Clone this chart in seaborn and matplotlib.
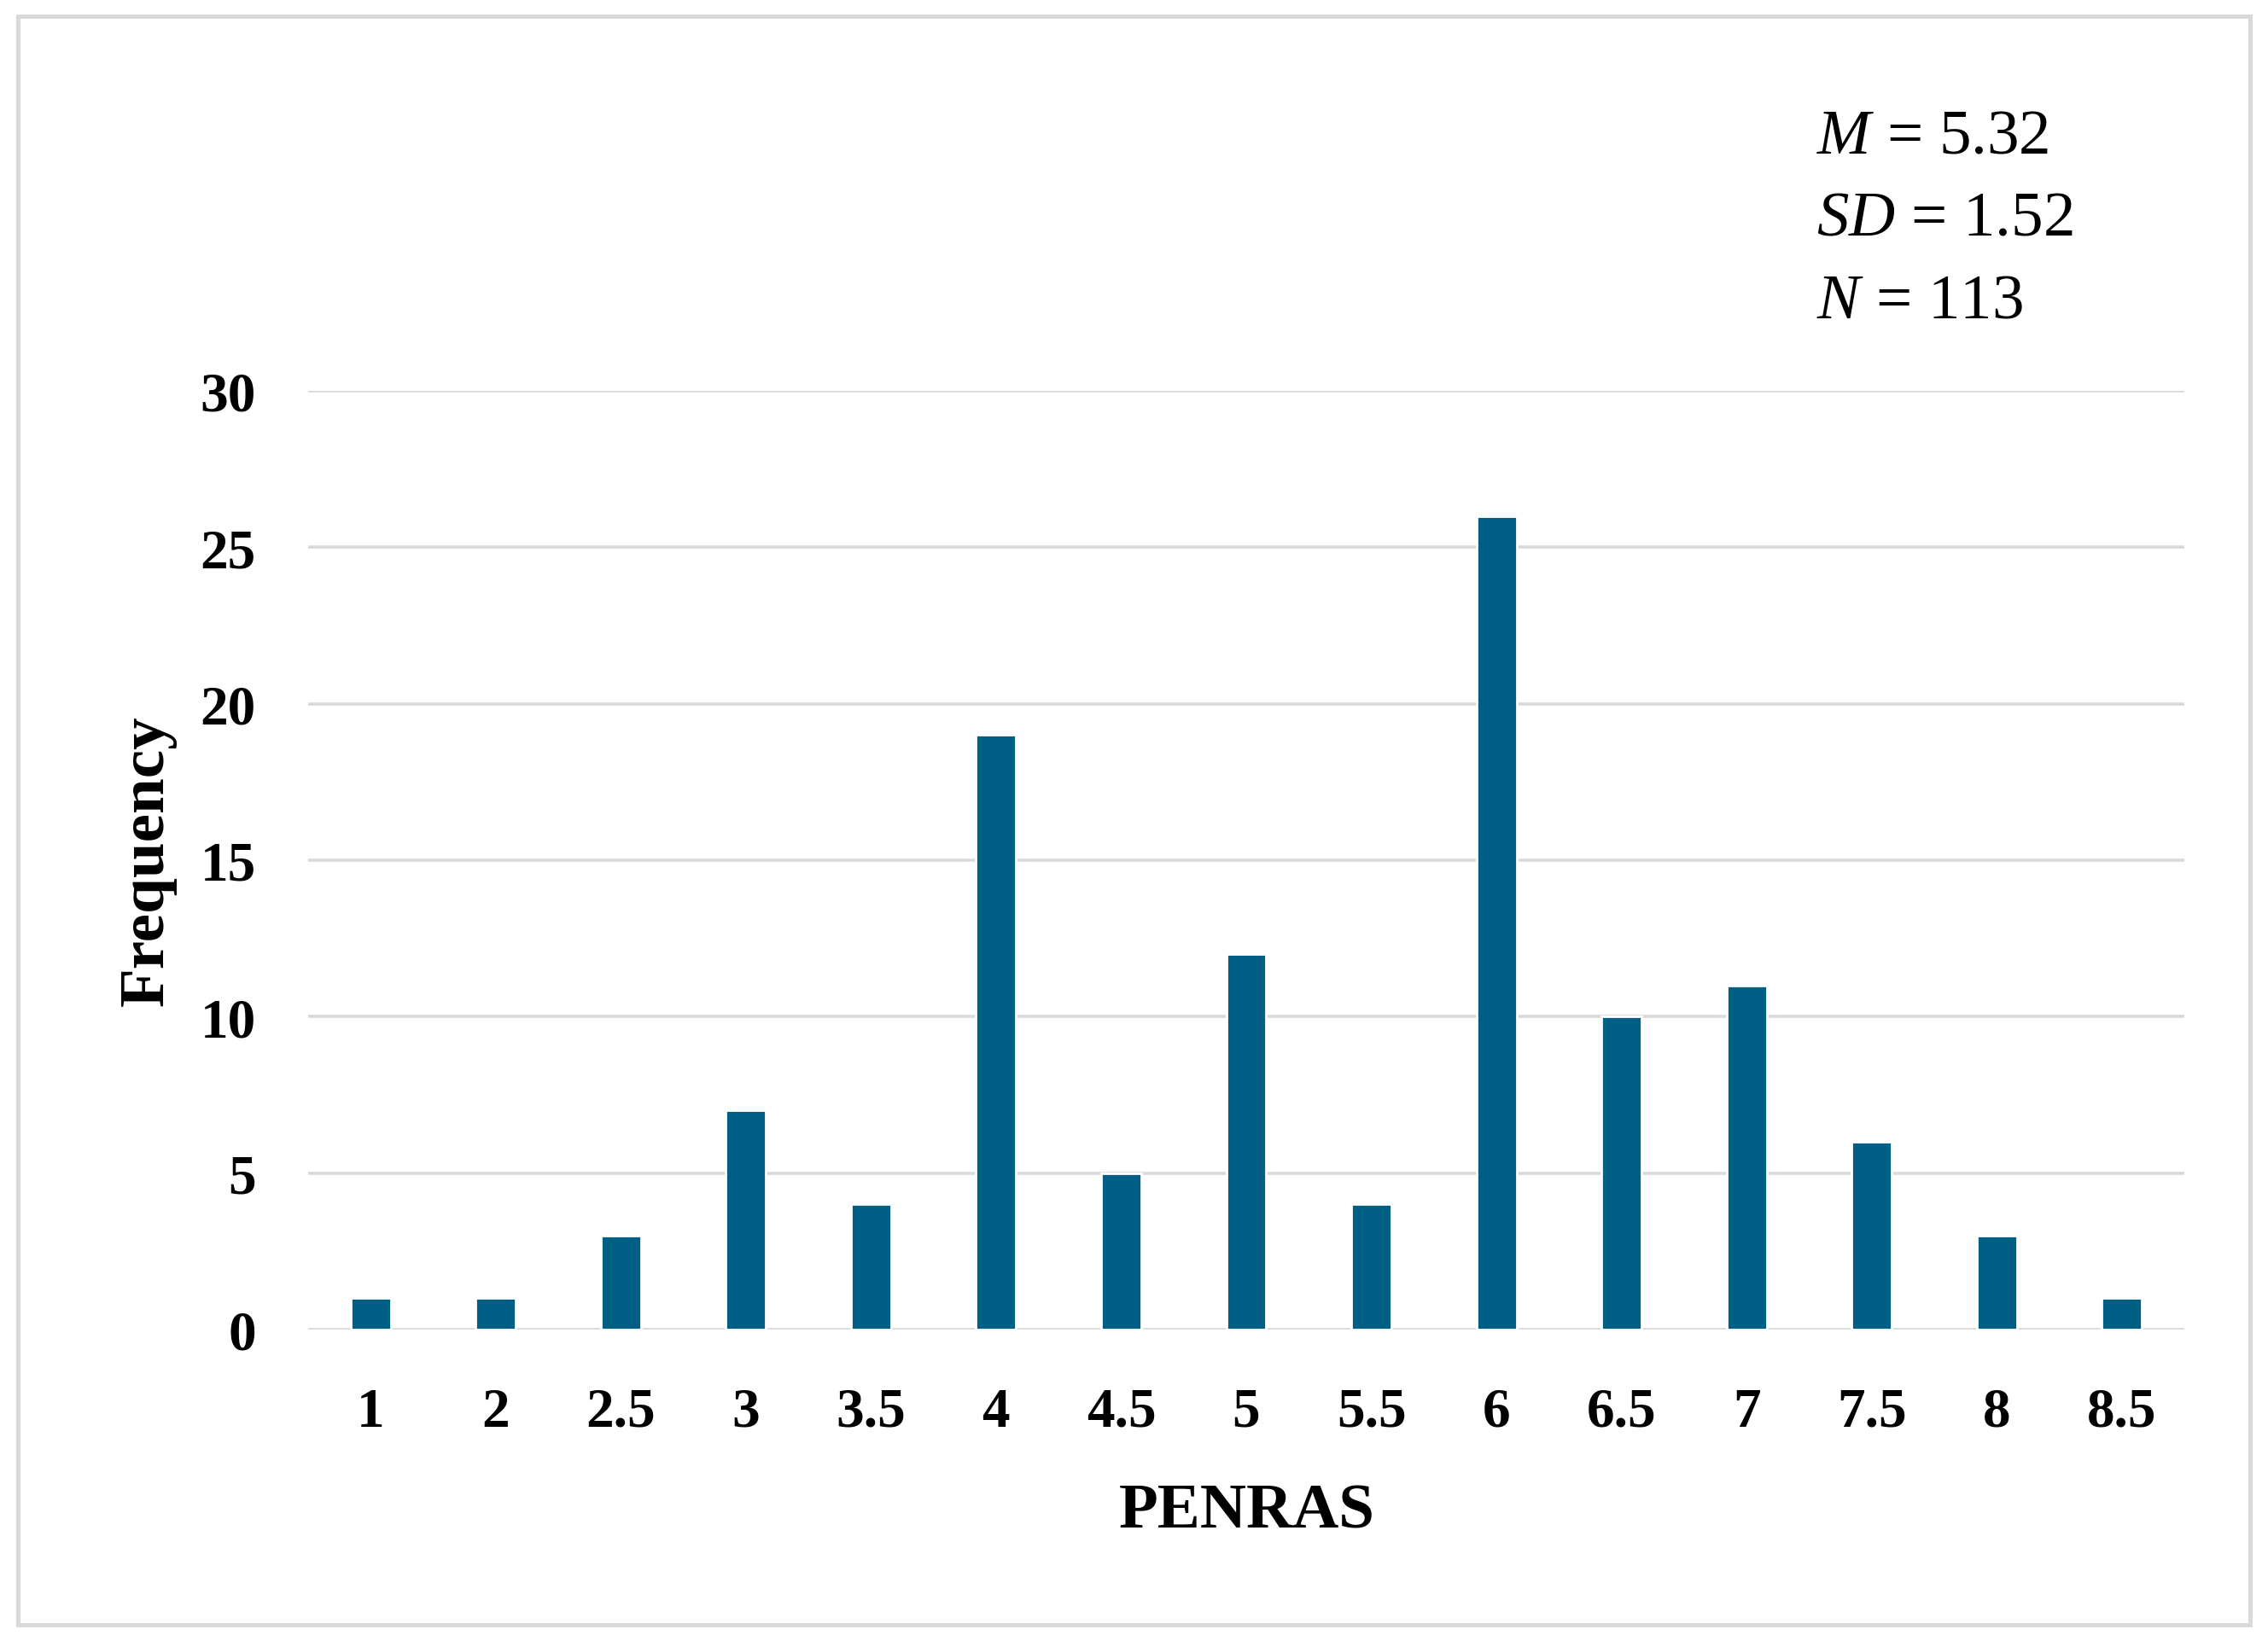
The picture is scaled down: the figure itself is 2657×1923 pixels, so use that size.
import matplotlib
matplotlib.use("Agg")
import matplotlib.pyplot as plt
import seaborn as sns
from matplotlib.patches import Rectangle

# data
penras = ["1", "2", "2.5", "3", "3.5", "4", "4.5", "5", "5.5", "6", "6.5", "7", "7.5", "8", "8.5"]
frequency = [1, 1, 3, 7, 4, 19, 5, 12, 4, 26, 10, 11, 6, 3, 1]
stats_lines = [("M", "5.32"), ("SD", "1.52"), ("N", "113")]

bar_color = "#005F85"
grid_color = "#D9D9D9"

sns.set_style("white")
plt.rcParams["font.family"] = ["Liberation Serif", "DejaVu Serif"]
plt.rcParams["mathtext.fontset"] = "custom"
plt.rcParams["mathtext.it"] = "Liberation Serif:italic"
plt.rcParams["mathtext.rm"] = "Liberation Serif"
plt.rcParams["text.color"] = "black"
plt.rcParams["axes.labelcolor"] = "black"
plt.rcParams["xtick.color"] = "black"
plt.rcParams["ytick.color"] = "black"

W, H, DPI = 2657, 1924, 200
fig = plt.figure(figsize=(W / DPI, H / DPI), dpi=DPI)
ax = fig.add_axes([361 / W, 1 - 1559 / H, (2559 - 361) / W, (1559 - 459) / H])

sns.barplot(x=penras, y=frequency, order=penras, color=bar_color,
            saturation=1, width=0.32, ax=ax, zorder=3)

ax.set_ylim(0, 30)
ax.set_xlim(-0.5, len(penras) - 0.5)
ax.set_yticks(range(0, 31, 5))
ax.set_axisbelow(True)
ax.yaxis.grid(True, color=grid_color, linewidth=1.3)
ax.xaxis.grid(False)
sns.despine(ax=ax, left=True, bottom=True)
ax.tick_params(axis="both", length=0, labelsize=23.5)
ax.tick_params(axis="y", pad=22)
ax.tick_params(axis="x", pad=24)
for lbl in ax.get_xticklabels() + ax.get_yticklabels():
    lbl.set_fontweight("bold")

ax.set_xlabel("PENRAS", fontsize=27, fontweight="bold")
ax.set_ylabel("Frequency", fontsize=27, fontweight="bold")
ax.xaxis.set_label_coords(0.5005, -0.163)
ax.yaxis.set_label_coords(-0.07, 0.5)

# summary statistics in the top right
baselines = [179, 276, 373]
for (sym, val), yb in zip(stats_lines, baselines):
    fig.text(2128 / W, 1 - yb / H, rf"$\mathit{{{sym}}}$ = {val}",
             fontsize=27, ha="left", va="baseline")

# grey frame around the figure
fig.patches.append(Rectangle((21 / W, 1 - 1905 / H), (2636 - 21) / W, (1905 - 20) / H,
                             transform=fig.transFigure, fill=False,
                             edgecolor=grid_color, linewidth=1.8))

fig.savefig("out.png", dpi=DPI, facecolor="white")
